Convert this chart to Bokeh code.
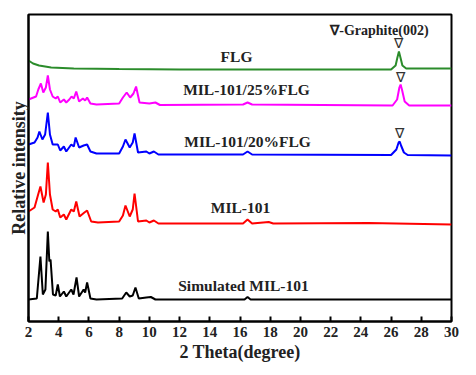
from bokeh.plotting import figure
from bokeh.embed import file_html
from bokeh.resources import INLINE
from bokeh.core.properties import value
from bokeh.models import FixedTicker, Range1d

# ---- data (2 Theta in degree, relative intensity in arbitrary units) ----
flg_x = [2.0, 2.3, 2.7, 3.5, 5.0, 8.0, 12.0, 20.0, 26.0, 26.3, 26.42, 26.52, 26.62, 26.75, 27.0, 30.0]
flg_y = [261, 258, 256, 254, 253, 252.5, 252, 252, 252, 256, 264, 270, 264, 256, 253, 253]

m25_x = [2.0, 2.5, 2.65, 2.82, 2.98, 3.15, 3.28, 3.42, 3.6, 3.8, 3.94, 4.1, 4.34, 4.5, 4.7, 4.85,
         5.0, 5.16, 5.35, 5.6, 5.75, 5.88, 6.1, 6.5, 8.0, 8.25, 8.5, 8.73, 8.95, 9.12, 9.35,
         10.0, 10.4, 10.7, 16.2, 16.5, 16.8, 26.1, 26.4, 26.55, 26.63, 26.72, 26.9, 27.2, 30.0]
m25_y = [222, 225, 232, 238, 229, 234, 246, 232, 225, 223, 225, 219, 222, 219, 222, 225,
         223, 230, 220, 223, 221, 224, 218, 217, 218, 224, 229, 224, 228, 235, 219,
         218, 219, 216.5, 217, 219, 217, 216, 222, 234, 237, 232, 220, 216, 216]

m20_x = [2.0, 2.4, 2.6, 2.72, 2.92, 3.1, 3.28, 3.42, 3.6, 3.94, 4.1, 4.34, 4.5, 4.83, 5.0,
         5.12, 5.35, 5.65, 5.88, 6.1, 6.5, 8.0, 8.25, 8.42, 8.7, 8.9, 9.02, 9.25, 9.8,
         10.0, 10.3, 10.6, 16.2, 16.5, 16.8, 26.0, 26.35, 26.5, 26.57, 26.66, 26.85, 27.1, 30.0]
m20_y = [177, 179, 184, 190, 182, 187, 209, 187, 177, 177, 171, 175, 170, 177, 175,
         184, 174, 176, 177, 170, 168, 168, 175, 182, 174, 179, 188, 169, 170,
         168, 170, 167, 167, 170, 167, 166.5, 172, 179, 180, 176, 169, 166.5, 166]

mil_x = [2.0, 2.4, 2.62, 2.79, 3.0, 3.15, 3.28, 3.42, 3.6, 3.8, 3.94, 4.1, 4.34, 4.5, 4.83,
         5.0, 5.16, 5.38, 5.7, 5.88, 6.15, 6.6, 8.0, 8.25, 8.42, 8.7, 8.9, 9.02, 9.25, 9.8,
         10.0, 10.3, 10.6, 16.2, 16.5, 16.8, 17.9, 18.2, 24.5, 30.0]
mil_y = [110, 114, 126, 135, 119, 127, 159, 127, 112, 110, 112, 104, 107, 102, 112,
         110, 120, 105, 109, 111, 100, 99, 100, 106, 116, 105, 112, 128, 100, 101,
         99, 101, 98, 98, 102, 98, 99.5, 98, 98.5, 97]

sim_x = [2.0, 2.55, 2.79, 2.95, 3.12, 3.28, 3.38, 3.46, 3.62, 3.8, 3.94, 4.08, 4.34, 4.5,
         4.83, 4.98, 5.18, 5.35, 5.65, 5.75, 5.88, 6.1, 6.5, 8.2, 8.47, 8.7, 8.9, 9.08, 9.3,
         9.8, 10.1, 10.4, 16.3, 16.5, 16.7, 30.0]
sim_y = [22, 23, 65, 27, 32, 90, 60, 62, 27, 26, 37, 25, 30, 25,
         32, 27, 44, 25, 32, 29, 39, 23, 22, 23, 29, 25, 26, 34, 23,
         24, 24.5, 22, 22, 24.5, 22, 22]

series_labels = ["FLG", "MIL-101/25%FLG", "MIL-101/20%FLG", "MIL-101", "Simulated MIL-101"]
label_x = [15.77, 16.43, 16.5, 16.03, 16.23]
label_y = [265, 232, 180, 114, 36]
colors = ["#2b8c2b", "#ff00ff", "#0000ff", "#ff0000", "#000000"]

graphite_x = [26.52, 26.63, 26.57]
graphite_y = [278, 244, 188]
graphite_text = "\u2207-Graphite(002)"

x_ticks = list(range(2, 31, 2))

FONT = "Liberation Serif"

p = figure(width=467, height=366, output_backend="svg", toolbar_location=None,
           x_range=Range1d(2, 30), y_range=Range1d(0, 307),
           min_border_left=28, min_border_right=16, min_border_top=14, min_border_bottom=45)

p.xgrid.visible = False
p.ygrid.visible = False
p.outline_line_color = "black"
p.outline_line_width = 2
p.background_fill_color = "white"
p.border_fill_color = "white"

xs = [flg_x, m25_x, m20_x, mil_x, sim_x]
ys = [flg_y, m25_y, m20_y, mil_y, sim_y]
for x, y, c in zip(xs, ys, colors):
    p.line(x, y, line_color=c, line_width=2)

p.text(x=label_x, y=label_y, text=series_labels, text_font=value(FONT),
       text_font_style="bold", text_font_size="15.5px", text_color="#222222",
       text_align="center", text_baseline="middle")

p.text(x=graphite_x, y=graphite_y, text=["\u2207"] * 3, text_font=value(FONT),
       text_font_size="14px", text_color="#333333", text_align="center",
       text_baseline="middle")
p.text(x=[25.23], y=[291], text=[graphite_text], text_font=value(FONT),
       text_font_style="bold", text_font_size="14px", text_color="#222222",
       text_align="center", text_baseline="middle")

xa = p.xaxis[0]
xa.ticker = FixedTicker(ticks=x_ticks)
xa.minor_tick_line_color = None
xa.major_tick_in = 5
xa.major_tick_out = 0
xa.major_tick_line_width = 2
xa.axis_line_width = 2
xa.major_label_text_font = FONT
xa.major_label_text_font_style = "bold"
xa.major_label_text_font_size = "15px"
xa.major_label_text_color = "#222222"
xa.major_label_standoff = 5
xa.axis_label = "2 Theta(degree)"
xa.axis_label_text_font = FONT
xa.axis_label_text_font_style = "bold"
xa.axis_label_text_font_size = "18px"
xa.axis_label_text_color = "#222222"
xa.axis_label_standoff = 2

ya = p.yaxis[0]
ya.ticker = FixedTicker(ticks=[])
ya.minor_tick_line_color = None
ya.major_tick_in = 0
ya.major_tick_out = 0
ya.axis_line_width = 2
ya.axis_label = "Relative intensity"
ya.axis_label_text_font = FONT
ya.axis_label_text_font_style = "bold"
ya.axis_label_text_font_size = "18px"
ya.axis_label_text_color = "#222222"
ya.axis_label_standoff = 0

open("out.html", "w").write(file_html(p, INLINE))
